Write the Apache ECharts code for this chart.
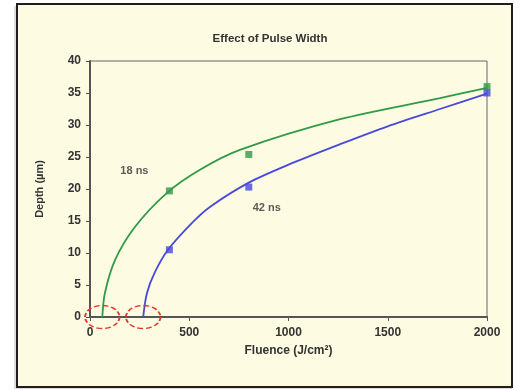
<!DOCTYPE html>
<html><head><meta charset="utf-8">
<script src="https://cdn.jsdelivr.net/npm/echarts@6/dist/echarts.min.js"></script>
<style>html,body{margin:0;padding:0;background:#fff;}#c{width:519px;height:389px;}</style>
</head><body><div id="c"></div>
<script>
// --- data ---
const titleText = 'Effect of Pulse Width';
const xName = 'Fluence (J/cm\u00B2)';
const yName = 'Depth (\u00B5m)';
// measured points
const pts18Fluence = [400, 800, 2000];
const pts18Depth = [19.7, 25.4, 36];
const pts42Fluence = [400, 800, 2000];
const pts42Depth = [10.5, 20.3, 35];
// fitted curves
const fit18Fluence = [62, 75, 126, 227, 388, 554, 755, 1260, 1763, 2000];
const fit18Depth = [0, 3.75, 8.9, 14.1, 19.4, 23, 26.1, 30.9, 34.2, 35.8];
const fit42Fluence = [268, 287, 327, 393, 514, 604, 800, 1000, 1260, 1500, 1763, 2000];
const fit42Depth = [0, 3.75, 7.0, 10.5, 14.7, 17.2, 21.0, 23.8, 27, 29.8, 32.5, 34.9];
// threshold points (circled)
const thrFluence = [62, 268];
const thrDepth = [0, 0];
const label18 = '18 ns';
const label42 = '42 ns';

const zip = (a, b) => a.map((v, i) => [v, b[i]]);
const green = '#2f9a48', blue = '#4848dc';
const txt = '#333';
const font = 'Liberation Sans';

const chart = echarts.init(document.getElementById('c'), null, {renderer: 'canvas'});
chart.setOption({
  animation: false,
  backgroundColor: '#ffffff',
  graphic: [
    {type: 'rect', z: -10, shape: {x: 14, y: 6, width: 498, height: 383}, style: {fill: '#bbbbbb', opacity: 0.5}},
    {type: 'rect', z: -9, shape: {x: 17, y: 4, width: 495, height: 383}, style: {fill: '#fdfbe2', stroke: '#1e1e1e', lineWidth: 2}}
  ],
  title: {
    text: titleText, left: 265, top: 28, textAlign: 'center',
    textStyle: {fontFamily: font, fontSize: 11.5, fontWeight: 'bold', color: txt}
  },
  grid: {left: 90, right: 32, top: 61, bottom: 72, show: true, borderColor: '#666', borderWidth: 1, backgroundColor: 'transparent'},
  xAxis: {
    type: 'value', min: 0, max: 2000, interval: 500,
    name: xName, nameLocation: 'middle', nameGap: 28,
    nameTextStyle: {fontFamily: font, fontSize: 12, fontWeight: 'bold', color: txt},
    axisLine: {show: true, lineStyle: {color: '#555', width: 2}},
    axisTick: {show: true, length: 4, lineStyle: {color: '#555'}},
    axisLabel: {fontFamily: font, fontSize: 12, fontWeight: 'bold', color: txt, margin: 10, formatter: v => String(v)},
    splitLine: {show: false}
  },
  yAxis: {
    type: 'value', min: 0, max: 40, interval: 5,
    name: yName, nameLocation: 'middle', nameGap: 45, nameRotate: 90,
    nameTextStyle: {fontFamily: font, fontSize: 11, fontWeight: 'bold', color: txt},
    axisLine: {show: true, lineStyle: {color: '#555', width: 2}},
    axisTick: {show: true, length: 4, lineStyle: {color: '#555'}},
    axisLabel: {fontFamily: font, fontSize: 12, fontWeight: 'bold', color: txt, margin: 9},
    splitLine: {show: false}
  },
  series: [
    {type: 'line', data: zip(fit18Fluence, fit18Depth), smooth: 0.3, showSymbol: false,
     lineStyle: {color: green, width: 1.8}, z: 3},
    {type: 'line', data: zip(fit42Fluence, fit42Depth), smooth: 0.3, showSymbol: false,
     lineStyle: {color: blue, width: 1.8}, z: 3},
    {type: 'scatter', data: zip(pts18Fluence, pts18Depth), symbol: 'rect', symbolSize: 7,
     itemStyle: {color: green}, z: 4,
     label: {show: true, formatter: p => p.dataIndex === 0 ? label18 : '', position: 'inside', offset: [-35, -20],
       fontFamily: font, fontSize: 11, fontWeight: 'bold', color: txt}},
    {type: 'scatter', data: zip(pts42Fluence, pts42Depth), symbol: 'rect', symbolSize: 7,
     itemStyle: {color: blue}, z: 4,
     label: {show: true, formatter: p => p.dataIndex === 1 ? label42 : '', position: 'inside', offset: [18, 21],
       fontFamily: font, fontSize: 11, fontWeight: 'bold', color: txt}},
    {type: 'custom', data: zip(thrFluence, thrDepth), z: 5, silent: true,
     renderItem: (params, api) => {
       const p = api.coord([api.value(0), api.value(1)]);
       return {type: 'circle', x: p[0], y: p[1], scaleX: 1.5, scaleY: 1,
         shape: {cx: 0, cy: 0, r: 11.5},
         style: {fill: 'none', stroke: '#e23a2a', lineWidth: 1.3, lineDash: [4, 2]}};
     }}
  ]
});
</script></body></html>
